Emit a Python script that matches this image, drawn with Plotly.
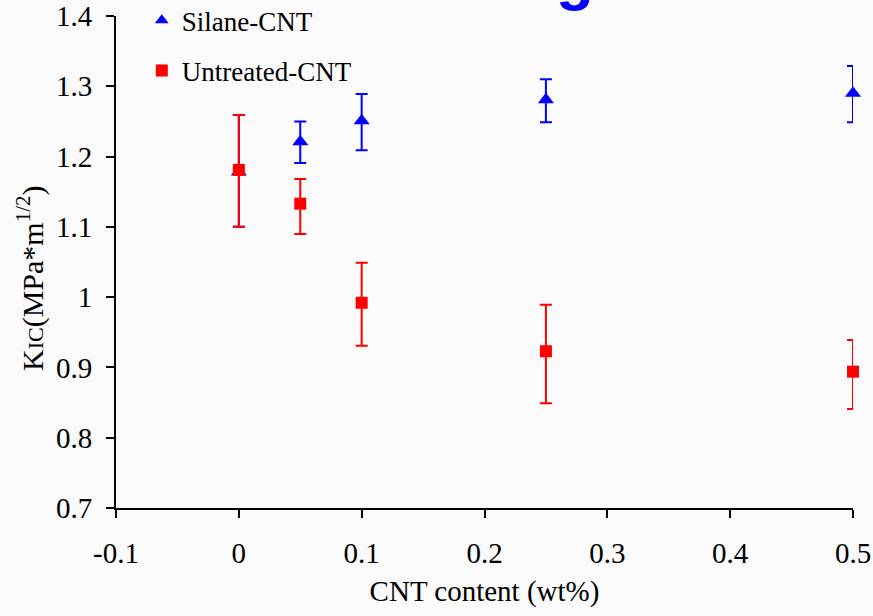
import plotly.graph_objects as go

x_vals = [0, 0.05, 0.1, 0.25, 0.5]
silane_y = [1.178, 1.221, 1.251, 1.281, 1.290]
silane_plus = [0.081, 0.029, 0.038, 0.029, 0.039]
silane_minus = [0.078, 0.030, 0.042, 0.032, 0.041]
untreated_y = [1.181, 1.133, 0.992, 0.923, 0.894]
untreated_plus = [0.078, 0.035, 0.057, 0.066, 0.045]
untreated_minus = [0.081, 0.043, 0.061, 0.074, 0.053]
x_ticks = [-0.1, 0, 0.1, 0.2, 0.3, 0.4, 0.5]
x_tick_text = ["-0.1", "0", "0.1", "0.2", "0.3", "0.4", "0.5"]
y_ticks = [0.7, 0.8, 0.9, 1.0, 1.1, 1.2, 1.3, 1.4]
y_tick_text = ["0.7", "0.8", "0.9", "1", "1.1", "1.2", "1.3", "1.4"]

SERIF = "Liberation Serif"

fig = go.Figure()
fig.add_trace(go.Scatter(
    x=x_vals, y=silane_y, mode="markers", name="Silane-CNT",
    legendgroup="a",
    marker=dict(symbol="triangle-up", size=14, color="#0000ff"),
    error_y=dict(type="data", symmetric=False, array=silane_plus, arrayminus=silane_minus,
                 color="#0000ff", thickness=2, width=6),
    cliponaxis=False,
))
fig.add_trace(go.Scatter(
    x=x_vals, y=untreated_y, mode="markers", name="Untreated-CNT",
    legendgroup="b",
    marker=dict(symbol="square", size=12, color="#ff0000"),
    error_y=dict(type="data", symmetric=False, array=untreated_plus, arrayminus=untreated_minus,
                 color="#ff0000", thickness=2, width=6),
    cliponaxis=False,
))

fig.add_annotation(
    text="<b>g</b>", xref="paper", yref="paper", x=(575 - 116) / 737, y=1.0 + (16 + 24) / 492,
    xanchor="center", yanchor="middle", showarrow=False,
    font=dict(family="Liberation Sans", size=62, color="#0000ff"),
)

# y-axis title as rotated annotation
fig.add_annotation(
    text="K<span style='font-size:22px'>IC</span>(MPa*m<sup>1/2</sup>)",
    xref="paper", yref="paper", x=(30 - 116) / 737, y=1.0 - (278 - 16) / 492,
    xanchor="center", yanchor="middle", textangle=-90, showarrow=False,
    font=dict(family=SERIF, size=30, color="#000000"),
)

fig.update_layout(
    width=873, height=616,
    margin=dict(l=116, r=20, t=16, b=108, autoexpand=False),
    paper_bgcolor="#fafafa",
    plot_bgcolor="rgba(0,0,0,0)",
    font=dict(family=SERIF, size=29, color="#000000"),
    showlegend=True,
    legend=dict(
        x=0.035, y=1.04, xanchor="left", yanchor="top",
        bgcolor="rgba(0,0,0,0)", font=dict(family=SERIF, size=27, color="#000000"),
        tracegroupgap=12, itemsizing="constant",
    ),
    xaxis=dict(
        range=[-0.1, 0.5], tickmode="array", tickvals=x_ticks, ticktext=x_tick_text,
        showgrid=False, zeroline=False, showline=True, linecolor="#000000", linewidth=1.8,
        ticks="outside", ticklen=8, tickwidth=1.8, tickcolor="#000000",
        tickfont=dict(family=SERIF, size=29), ticklabelstandoff=10, automargin=False,
        title=dict(text="CNT content (wt%)", font=dict(family=SERIF, size=29), standoff=13),
    ),
    yaxis=dict(
        range=[0.7, 1.4], tickmode="array", tickvals=y_ticks, ticktext=y_tick_text,
        showgrid=False, zeroline=False, showline=True, linecolor="#000000", linewidth=1.8,
        ticks="outside", ticklen=8, tickwidth=1.8, tickcolor="#000000",
        tickfont=dict(family=SERIF, size=29), ticklabelstandoff=8, automargin=False,
    ),
)

fig.write_html("out.html")
